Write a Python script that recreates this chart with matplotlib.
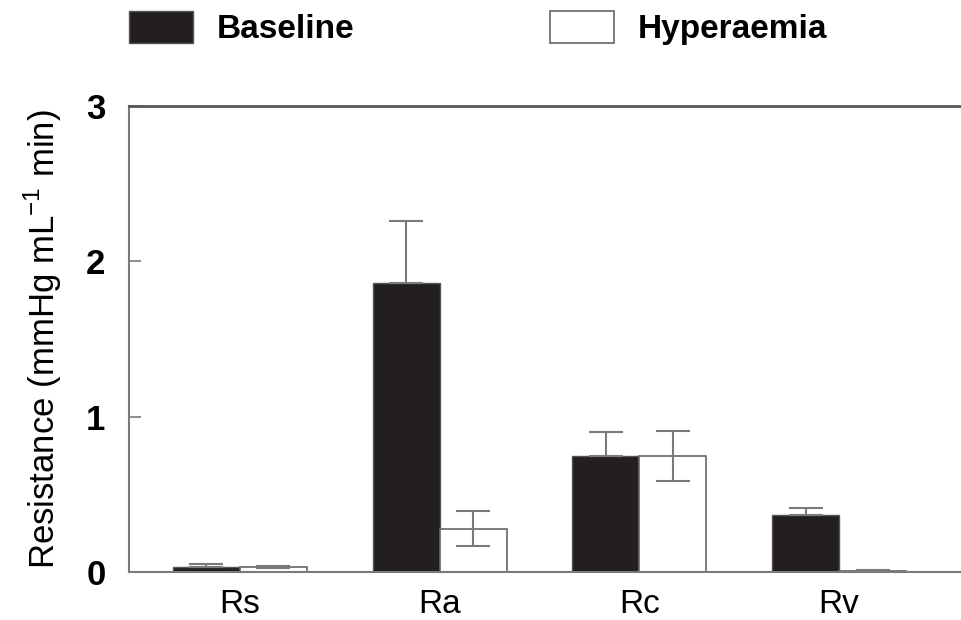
import matplotlib
matplotlib.use("Agg")
import matplotlib.pyplot as plt
import numpy as np

plt.rcParams['font.family'] = ['Liberation Sans', 'DejaVu Sans']

# values
categories = ["Rs", "Ra", "Rc", "Rv"]
baseline = [0.034, 1.86, 0.745, 0.367]
baseline_err = [0.016, 0.40, 0.155, 0.043]
hyperaemia = [0.03, 0.28, 0.745, 0.008]
hyperaemia_err = [0.007, 0.115, 0.16, 0.004]
yticks = [0, 1, 2, 3]

x = np.arange(len(categories))
width = 0.335
grey = "#7a7a7a"

fig = plt.figure(figsize=(9.61, 6.2), dpi=100)
ax = fig.add_axes([129 / 961, 1 - 572 / 620, 1 - 129 / 961, (572 - 106) / 620])

# baseline: black bars, error drawn upward only
ax.bar(x - width / 2, baseline, width, color="#231f20", edgecolor="#555555",
       linewidth=1, label="Baseline", zorder=2)
ax.errorbar(x - width / 2, baseline, yerr=[np.zeros(4), baseline_err], fmt="none",
            ecolor=grey, elinewidth=1.5, capsize=12, capthick=1.5, zorder=3)

# hyperaemia: white bars, symmetric error
ax.bar(x + width / 2, hyperaemia, width, color="white", edgecolor="#666666",
       linewidth=1.2, label="Hyperaemia", zorder=2)
ax.errorbar(x + width / 2, hyperaemia, yerr=hyperaemia_err, fmt="none",
            ecolor=grey, elinewidth=1.5, capsize=12, capthick=1.5, zorder=3)

ax.set_xlim(-0.555, 3.61)
ax.set_ylim(0, 3)
ax.set_xticks(x)
ax.set_xticklabels(categories, fontsize=24)
ax.set_yticks(yticks)
ax.set_yticklabels([str(t) for t in yticks], fontsize=25, fontweight="bold")
ax.tick_params(axis="x", length=0, pad=12)
ax.tick_params(axis="y", direction="in", length=8.5, width=1.2, color=grey, pad=17)

ax.spines["right"].set_visible(False)
ax.spines["top"].set_color("#555555")
ax.spines["top"].set_linewidth(2)
for s in ["left", "bottom"]:
    ax.spines[s].set_color(grey)
    ax.spines[s].set_linewidth(1.5)

ax.set_ylabel("Resistance (mmHg mL$^{\\mathregular{-1}}$ min)", fontsize=25, labelpad=16)

ax.legend(loc="upper left", bbox_to_anchor=(129 / 961, 1 - 11 / 620),
          bbox_transform=fig.transFigure, ncol=2, frameon=False,
          prop={"size": 24, "weight": "bold"}, handlelength=1.92, handleheight=1.1,
          handletextpad=0.72, columnspacing=5.85, borderpad=0, borderaxespad=0)

fig.savefig("out.png", dpi=100)
